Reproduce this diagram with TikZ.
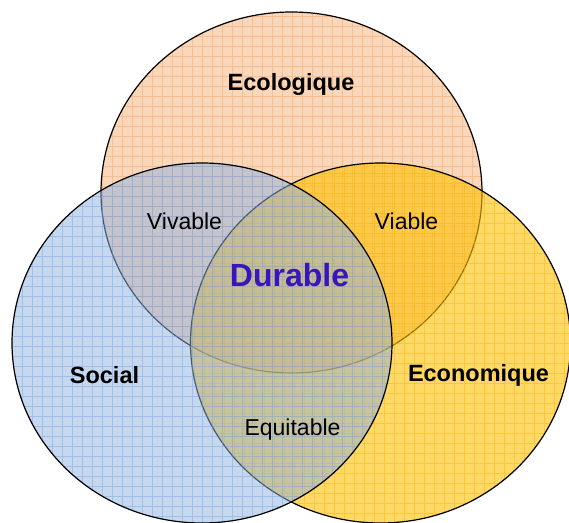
\documentclass[tikz,border=0pt]{standalone}
\usepackage{fontspec}
\setmainfont{Liberation Sans}
\definecolor{ecofill}{HTML}{FBD7BA}
\definecolor{ecogrid}{HTML}{F7BE94}
\definecolor{socfill}{HTML}{8DB3E2}
\definecolor{socgrid}{HTML}{6A9AD6}
\definecolor{econfill}{HTML}{FFC000}
\definecolor{econgrid}{HTML}{F0AE00}
\definecolor{durcol}{RGB}{56,22,190}
\tikzset{
  ring/.style={draw=black, line width=1.2pt},
  gridln/.style={line width=0.55pt},
  lab/.style={font=\fontsize{23}{27}\selectfont, text=black, inner sep=0pt, anchor=base},
  blab/.style={font=\fontsize{23.5}{28}\selectfont\bfseries, text=black, inner sep=0pt, anchor=base},
  dlab/.style={font=\fontsize{32}{38}\selectfont\bfseries, text=durcol, inner sep=0pt, anchor=base},
}
\begin{document}
\begin{tikzpicture}[x=1pt,y=-1pt]
\useasboundingbox[fill=white] (0,0) rectangle (569,522);
\coordinate (eco) at (291.5,192.5);
\coordinate (soc) at (202,343);
\coordinate (econ) at (380.5,343);
% Ecologique
\begin{scope}
  \clip (eco) ellipse [x radius=190.5, y radius=180.5];
  \fill[ecofill] (90,0) rectangle (490,380);
  \begin{scope}[shift={(2,6.7)}]
    \draw[ecogrid, gridln, step=10pt] (80,0) grid (490,380);
  \end{scope}
\end{scope}
\draw[ring] (eco) ellipse [x radius=190.5, y radius=180.5];
% Economique
\begin{scope}
  \clip (econ) ellipse [x radius=190, y radius=180];
  \fill[econfill, opacity=0.6] (180,150) rectangle (575,530);
  \begin{scope}[shift={(4,3)}]
    \draw[econgrid, gridln, opacity=0.4, step=10pt] (170,140) grid (575,530);
  \end{scope}
\end{scope}
\draw[ring] (econ) ellipse [x radius=190, y radius=180];
% Social
\begin{scope}
  \clip (soc) ellipse [x radius=190, y radius=180];
  \fill[socfill, opacity=0.5] (0,150) rectangle (400,530);
  \begin{scope}[shift={(2,6.7)}]
    \draw[socgrid, gridln, opacity=0.4, step=10pt] (0,140) grid (400,530);
  \end{scope}
\end{scope}
\draw[ring] (soc) ellipse [x radius=190, y radius=180];
% Labels
\node[blab] (tEco) at (291,90.7) {Ecologique};
\node[blab] (tSoc) at (104.5,383) {Social};
\node[blab] (tEcon) at (478.5,381) {Economique};
\node[lab] (tViv) at (184.5,229) {Vivable};
\node[lab] (tVia) at (406.5,229) {Viable};
\node[lab] (tEqu) at (292.5,435) {Equitable};
\node[dlab] (tDur) at (289.5,286) {Durable};
\end{tikzpicture}
\end{document}
